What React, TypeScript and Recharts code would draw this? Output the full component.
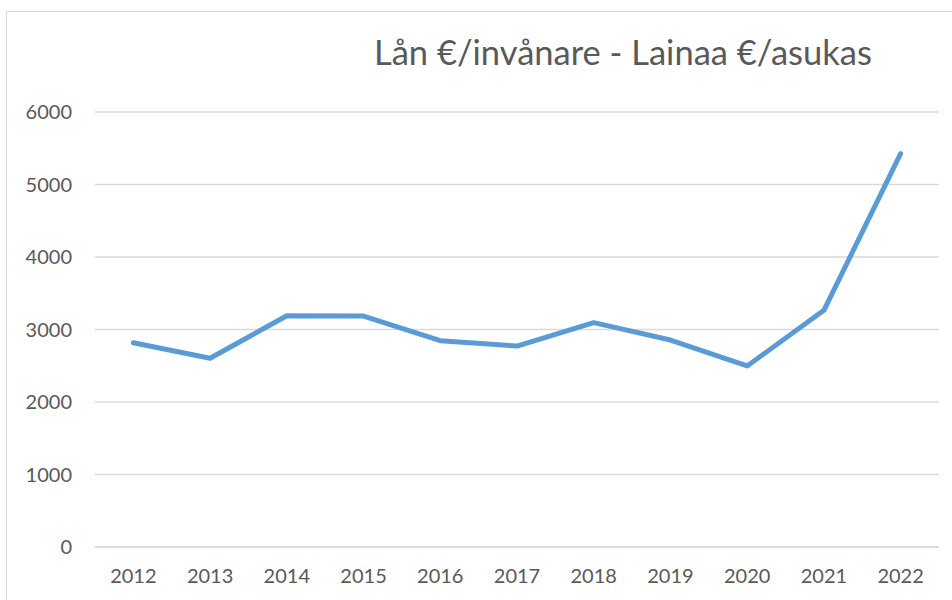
import { LineChart, Line, XAxis, YAxis, CartesianGrid } from 'recharts';

const years = ['2012', '2013', '2014', '2015', '2016', '2017', '2018', '2019', '2020', '2021', '2022'];
const loanPerCapita = [2818, 2603, 3190, 3185, 2846, 2772, 3094, 2855, 2497, 3265, 5425];
const yTicks = [0, 1000, 2000, 3000, 4000, 5000, 6000];

const data = years.map((y, i) => ({ year: y, value: loanPerCapita[i] }));

const font = 'Lato, "Open Sans", sans-serif';
const textColor = '#595959';

export default function App() {
  return (
    <div style={{ position: 'absolute', left: 0, top: 0, width: 952, height: 600, background: '#fff', overflow: 'hidden' }}>
      {/* chart frame */}
      <div
        style={{
          position: 'absolute',
          left: 6,
          top: 11,
          width: 960,
          height: 620,
          border: '1px solid #d9d9d9',
        }}
      />
      <div
        style={{
          position: 'absolute',
          left: 374,
          top: 30,
          fontFamily: font,
          fontSize: 34.5,
          color: textColor,
          whiteSpace: 'nowrap',
          lineHeight: '44px',
        }}
      >
        Lån €/invånare - Lainaa €/asukas
      </div>
      <LineChart
        width={952}
        height={600}
        data={data}
        margin={{ top: 112, right: 13, bottom: 0, left: 0 }}
        style={{ position: 'absolute', left: 0, top: 0 }}
      >
        <CartesianGrid vertical={false} stroke="#d9d9d9" strokeWidth={1.5} />
        <XAxis
          dataKey="year"
          scale="band"
          height={53}
          axisLine={{ stroke: '#d9d9d9', strokeWidth: 1.5 }}
          tickLine={false}
          tickSize={0}
          tickMargin={22}
          tick={{ fill: textColor, fontSize: 20, fontFamily: font }}
        />
        <YAxis
          domain={[0, 6000]}
          ticks={yTicks}
          width={95}
          axisLine={false}
          tickLine={false}
          tickSize={0}
          tickMargin={23}
          tick={{ fill: textColor, fontSize: 20, fontFamily: font }}
        />
        <Line
          type="linear"
          dataKey="value"
          stroke="#5b9bd5"
          strokeWidth={5}
          strokeLinecap="round"
          strokeLinejoin="round"
          dot={false}
          activeDot={false}
          isAnimationActive={false}
        />
      </LineChart>
    </div>
  );
}
